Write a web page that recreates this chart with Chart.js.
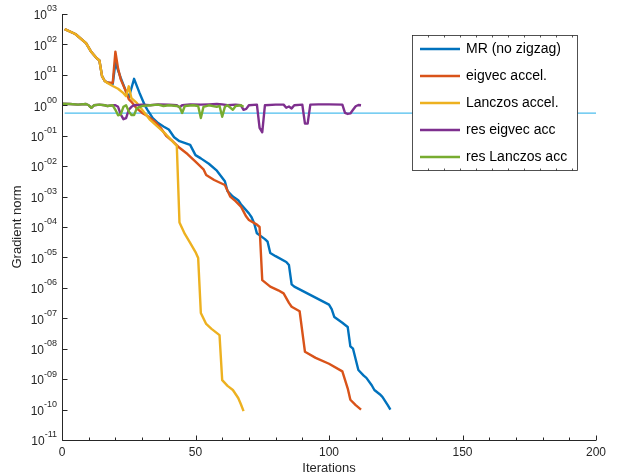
<!DOCTYPE html>
<html>
<head>
<meta charset="utf-8">
<script src="https://cdn.jsdelivr.net/npm/chart.js@4.4.1/dist/chart.umd.min.js"></script>
<style>
  html, body { margin: 0; padding: 0; background: #fff; }
  canvas { display: block; }
</style>
</head>
<body>
<canvas id="normChart" width="631" height="475"></canvas>
<script>
// iteration numbers and gradient norms for each solver
var mrIter = [1, 5, 9, 11, 13, 14, 15, 16, 17, 19, 20, 22, 24, 25, 27, 29, 31, 32, 34, 36, 38, 40, 42, 44, 48, 50, 52, 55, 58, 61, 62, 64, 66, 67, 70, 71, 72, 73, 76, 77, 78, 80, 84, 85, 86, 87, 100, 101, 102, 105, 107, 108, 109, 111, 113, 114, 116, 117, 119, 120, 122, 123];
var mrNorm = [3.2e2, 2.2e2, 1.1e2, 56, 35, 30, 9.1, 6.3, 5.6, 5.0, 25, 7.9, 2.8, 1.8, 7.4, 2.6, 1.0, 0.71, 0.38, 0.26, 0.20, 0.16, 0.089, 0.066, 0.050, 0.023, 0.018, 0.012, 7.1e-3, 3.2e-3, 1.5e-3, 1.0e-3, 7.6e-4, 5.6e-4, 2.8e-4, 2.1e-4, 1.3e-4, 6.2e-5, 4.0e-5, 3.3e-5, 1.4e-5, 1.1e-5, 7.1e-6, 5.6e-6, 1.3e-6, 1.1e-6, 2.8e-7, 2.0e-7, 1.1e-7, 7.1e-8, 5.2e-8, 1.2e-8, 1.0e-8, 2.0e-9, 1.3e-9, 1.1e-9, 6.3e-10, 4.4e-10, 3.2e-10, 2.6e-10, 1.4e-10, 1.0e-10];

var eigIter = [1, 5, 9, 11, 13, 14, 15, 16, 17, 19, 20, 21, 22, 24, 25, 26, 28, 30, 32, 35, 37, 39, 41, 44, 47, 50, 53, 54, 57, 61, 63, 65, 67, 69, 70, 73, 74, 75, 78, 81, 83, 85, 86, 89, 91, 95, 100, 105, 107, 108, 110, 112];
var eigNorm = [3.2e2, 2.2e2, 1.1e2, 56, 35, 30, 9.1, 6.3, 5.6, 5.4, 58, 16, 7.1, 2.8, 1.6, 1.3, 0.79, 0.56, 0.45, 0.28, 0.18, 0.10, 0.071, 0.040, 0.025, 0.014, 7.9e-3, 5.1e-3, 3.5e-3, 2.4e-3, 1.0e-3, 7.1e-4, 4.7e-4, 2.2e-4, 1.7e-4, 1.2e-4, 1.0e-4, 1.8e-6, 1.1e-6, 8.3e-7, 6.6e-7, 3.2e-7, 2.4e-7, 1.7e-7, 7.9e-9, 5.0e-9, 3.2e-9, 1.8e-9, 5.0e-10, 2.1e-10, 1.4e-10, 1.0e-10];

var lanIter = [1, 5, 9, 11, 13, 14, 15, 16, 17, 19, 21, 23, 24, 25, 26, 28, 30, 33, 36, 39, 43, 44, 46, 48, 50, 51, 52, 54, 56, 59, 60, 62, 64, 66, 67, 68];
var lanNorm = [3.2e2, 2.2e2, 1.1e2, 56, 35, 30, 9.1, 6.3, 5.4, 4.3, 3.5, 2.5, 2.0, 4.2, 1.7, 1.2, 0.71, 0.33, 0.19, 0.11, 0.046, 1.4e-4, 5.9e-5, 3.0e-5, 1.5e-5, 9.5e-6, 1.5e-7, 6.5e-8, 4.5e-8, 2.8e-8, 9.3e-10, 6.0e-10, 4.4e-10, 2.4e-10, 1.5e-10, 8.9e-11];

var resEigIter = [0, 3, 6, 9, 10, 11, 12, 14, 16, 17, 19, 20, 21, 22, 23, 24, 25, 26, 27, 30, 33, 36, 40, 43, 44, 45, 48, 52, 55, 58, 60, 62, 65, 67, 68, 69, 70, 73, 74, 75, 76, 80, 83, 84, 85, 86, 87, 90, 91, 92, 93, 96, 100, 105, 106, 107, 108, 109, 110, 111, 112];
var resEigNorm = [1.12, 1.10, 1.05, 1.10, 1.0, 0.83, 1.0, 1.05, 1.0, 0.95, 1.0, 1.0, 0.89, 0.50, 0.35, 0.38, 0.71, 0.89, 1.0, 1.05, 1.0, 1.07, 1.05, 1.0, 0.85, 1.0, 1.07, 1.05, 1.07, 1.1, 1.07, 1.0, 1.05, 1.0, 0.71, 0.76, 1.0, 1.05, 0.18, 0.13, 1.0, 1.05, 1.05, 0.83, 0.91, 0.79, 1.0, 1.05, 0.25, 0.25, 1.05, 1.07, 1.07, 1.05, 0.56, 0.52, 0.54, 0.71, 0.93, 1.02, 1.0];

var resLanIter = [0, 3, 6, 9, 10, 11, 12, 14, 16, 17, 19, 20, 21, 22, 23, 24, 25, 26, 27, 28, 30, 33, 36, 38, 40, 43, 44, 45, 46, 49, 51, 52, 53, 55, 58, 59, 60, 61, 62, 64, 65, 67, 68];
var resLanNorm = [1.12, 1.10, 1.05, 1.10, 1.0, 0.83, 1.0, 1.05, 1.0, 0.95, 1.0, 0.71, 0.47, 0.50, 0.89, 1.0, 0.63, 0.48, 0.48, 0.79, 0.95, 1.0, 1.05, 0.95, 1.0, 0.95, 0.89, 0.56, 0.95, 1.0, 0.95, 0.38, 0.89, 1.0, 0.89, 0.95, 0.42, 0.89, 1.0, 0.71, 0.95, 1.0, 0.89];

// horizontal reference level
var refLevel = 0.55;
var refIter = [1, 200];

var xTicks = [0, 50, 100, 150, 200];
var yExponents = [3, 2, 1, 0, -1, -2, -3, -4, -5, -6, -7, -8, -9, -10, -11];

function toPoints(xs, ys) {
  return xs.map(function (x, i) { return { x: x, y: ys[i] }; });
}

function expLabel(e) {
  var s = String(Math.abs(e));
  if (s.length < 2) s = '0' + s;
  return (e < 0 ? '-' : '') + s;
}

var fontFamily = '"Liberation Sans", Arial, Helvetica, sans-serif';

// axes, ticks, labels and legend drawn in MATLAB style
var matlabAxes = {
  id: 'matlabAxes',
  afterDatasetsDraw: function (chart) {
    var ctx = chart.ctx;
    var area = chart.chartArea;
    var xs = chart.scales.x;
    var ys = chart.scales.y;
    ctx.save();
    ctx.strokeStyle = '#262626';
    ctx.fillStyle = '#262626';
    ctx.lineWidth = 1;

    var left = Math.round(area.left) + 0.5;
    var bottom = Math.round(area.bottom) + 0.5;
    ctx.beginPath();
    ctx.moveTo(left, area.top);
    ctx.lineTo(left, bottom);
    ctx.lineTo(area.right, bottom);
    ctx.stroke();

    // x ticks
    ctx.beginPath();
    for (var v = 0; v <= 200; v += 10) {
      var px = Math.round(xs.getPixelForValue(v)) + 0.5;
      var len = (v % 50 === 0) ? 5 : 3;
      ctx.moveTo(px, bottom);
      ctx.lineTo(px, bottom - len);
    }
    // y ticks
    yExponents.forEach(function (e) {
      var py = Math.round(ys.getPixelForValue(Math.pow(10, e))) + 0.5;
      ctx.moveTo(left, py);
      ctx.lineTo(left + 5, py);
    });
    ctx.stroke();

    // x tick labels
    ctx.font = '12px ' + fontFamily;
    ctx.textAlign = 'center';
    ctx.textBaseline = 'middle';
    xTicks.forEach(function (t) {
      ctx.fillText(String(t), xs.getPixelForValue(t), bottom + 12);
    });

    // y tick labels: 10 with raised exponent
    yExponents.forEach(function (e) {
      var py = ys.getPixelForValue(Math.pow(10, e));
      var ex = expLabel(e);
      ctx.font = '9px ' + fontFamily;
      var ew = ctx.measureText(ex).width;
      ctx.textAlign = 'left';
      ctx.textBaseline = 'middle';
      var right = area.left - 5;
      ctx.fillText(ex, right - ew, py - 5);
      ctx.font = '12px ' + fontFamily;
      ctx.textAlign = 'right';
      ctx.fillText('10', right - ew, py + 2);
    });

    // axis titles
    ctx.font = '13px ' + fontFamily;
    ctx.textAlign = 'center';
    ctx.textBaseline = 'middle';
    ctx.fillText('Iterations', (area.left + area.right) / 2, bottom + 28);
    ctx.save();
    ctx.translate(17, (area.top + area.bottom) / 2);
    ctx.rotate(-Math.PI / 2);
    ctx.fillText('Gradient norm', 0, 0);
    ctx.restore();

    // legend box
    var bx = 412.5, by = 35.5, bw = 165, bh = 135;
    ctx.fillStyle = '#ffffff';
    ctx.fillRect(bx, by, bw, bh);
    ctx.strokeStyle = '#262626';
    ctx.lineWidth = 0.8;
    ctx.strokeRect(bx, by, bw, bh);
    ctx.beginPath();
    for (var tx = bx + 16; tx < bx + bw - 4; tx += 16) {
      ctx.moveTo(tx, by);
      ctx.lineTo(tx, by + 2);
      ctx.moveTo(tx, by + bh);
      ctx.lineTo(tx, by + bh - 2);
    }
    ctx.stroke();

    var row = 0;
    ctx.font = '14px ' + fontFamily;
    ctx.textAlign = 'left';
    ctx.textBaseline = 'middle';
    chart.data.datasets.forEach(function (ds) {
      if (!ds.label) return;
      var ly = 49 + row * 27;
      ctx.strokeStyle = ds.borderColor;
      ctx.lineWidth = 2.4;
      ctx.beginPath();
      ctx.moveTo(420, ly);
      ctx.lineTo(460, ly);
      ctx.stroke();
      ctx.fillStyle = '#000000';
      ctx.fillText(ds.label, 466, ly);
      row++;
    });
    ctx.restore();
  }
};

var ctx = document.getElementById('normChart').getContext('2d');

function series(label, xsArr, ysArr, color, order) {
  return {
    label: label,
    data: toPoints(xsArr, ysArr),
    borderColor: color,
    borderWidth: 2.4,
    borderJoinStyle: 'round',
    pointRadius: 0,
    tension: 0,
    fill: false,
    order: order
  };
}

var chart = new Chart(ctx, {
  type: 'line',
  data: {
    datasets: [
      series('MR (no zigzag)', mrIter, mrNorm, '#0072BD', 5),
      series('eigvec accel.', eigIter, eigNorm, '#D95319', 4),
      series('Lanczos accel.', lanIter, lanNorm, '#EDB120', 3),
      series('res eigvec acc', resEigIter, resEigNorm, '#7E2F8E', 2),
      series('res Lanczos acc', resLanIter, resLanNorm, '#77AC30', 1),
      {
        data: toPoints(refIter, refIter.map(function () { return refLevel; })),
        borderColor: '#4DBEEE',
        borderWidth: 1.2,
        pointRadius: 0,
        fill: false,
        order: 6
      }
    ]
  },
  options: {
    responsive: false,
    animation: false,
    layout: {
      padding: { left: 62, right: 35, top: 14, bottom: 35 }
    },
    scales: {
      x: { type: 'linear', min: 0, max: 200, display: false },
      y: { type: 'logarithmic', min: 1e-11, max: 1e3, display: false }
    },
    plugins: {
      legend: { display: false },
      tooltip: { enabled: false }
    }
  },
  plugins: [matlabAxes]
});
</script>
</body>
</html>
